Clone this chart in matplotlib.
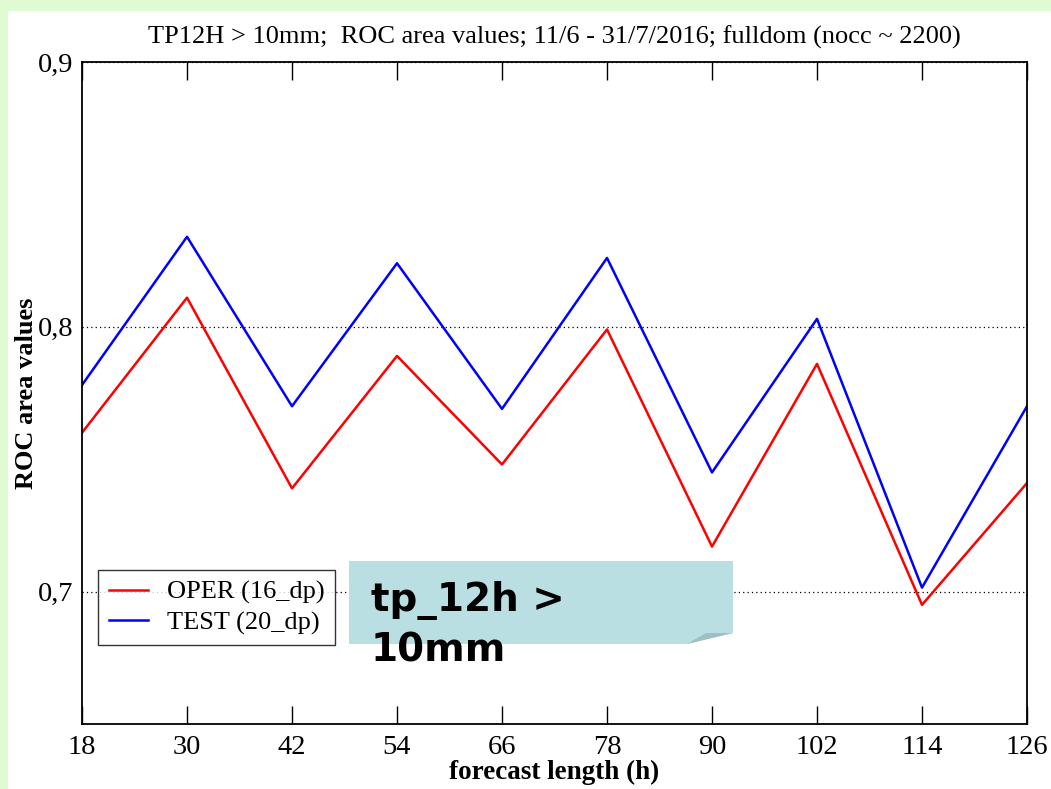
import matplotlib
matplotlib.use("Agg")
import matplotlib.pyplot as plt
from matplotlib.patches import Rectangle, Polygon
from matplotlib.ticker import FuncFormatter

# data
lead_hours = [18, 30, 42, 54, 66, 78, 90, 102, 114, 126]
oper_roc = [0.760, 0.811, 0.739, 0.789, 0.748, 0.799, 0.717, 0.786, 0.695, 0.741]
test_roc = [0.778, 0.834, 0.770, 0.824, 0.769, 0.826, 0.745, 0.803, 0.7015, 0.770]
y_ticks = [0.7, 0.8, 0.9]
series_labels = ["OPER (16_dp)", "TEST (20_dp)"]
title = "TP12H > 10mm;  ROC area values; 11/6 - 31/7/2016; fulldom (nocc ~ 2200)"
note_text = "tp_12h >\n10mm"

W, H = 1051, 789
serif = ["Liberation Serif", "DejaVu Serif"]


def fx(px):
    return px / W


def fy(py):
    return 1 - py / H


fig = plt.figure(figsize=(W / 100, H / 100), dpi=100)
fig.patch.set_facecolor("#e0fbd2")
# white slide area
fig.patches.append(Rectangle((fx(8), 0), 1 - fx(8), fy(11), transform=fig.transFigure,
                             facecolor="white", edgecolor="none", zorder=-10))

ax = fig.add_axes([fx(82), fy(724), fx(1027) - fx(82), fy(62) - fy(724)])
ax.set_zorder(1)
ax.plot(lead_hours, oper_roc, color="#ff0000", lw=1.8, label=series_labels[0])
ax.plot(lead_hours, test_roc, color="#0000ff", lw=1.8, label=series_labels[1])

ax.set_xlim(18, 126)
ax.set_ylim(0.65, 0.9)
ax.set_xticks(lead_hours)
ax.set_yticks(y_ticks)
ax.yaxis.set_major_formatter(FuncFormatter(lambda v, p: f"{v:.1f}".replace(".", ",")))

for lab in ax.get_xticklabels() + ax.get_yticklabels():
    lab.set_fontfamily(serif)
    lab.set_fontsize(20.5)
ax.tick_params(axis="x", direction="in", length=13, width=1, top=True, pad=8, colors="black")
ax.tick_params(axis="y", length=0, pad=6)
for s in ax.spines.values():
    s.set_linewidth(1.3)

ax.yaxis.grid(True, linestyle=(0, (1, 2.5)), color="black", lw=0.9)

ax.set_title(title, fontfamily=serif, fontsize=19, pad=13)
ax.set_xlabel("forecast length (h)", fontfamily=serif, fontweight="bold", fontsize=19.5, labelpad=0)
ax.set_ylabel("ROC area values", fontfamily=serif, fontweight="bold", fontsize=19)
ax.yaxis.set_label_coords(-0.047, 0.5)

leg = ax.legend(loc="lower left", bbox_to_anchor=(fx(98 - 82) / (fx(1027) - fx(82)), 0.119),
                prop={"family": serif, "size": 19}, frameon=True, fancybox=False,
                handlelength=1.5, handletextpad=0.7, borderpad=0.4, labelspacing=0.25,
                borderaxespad=0)
leg.get_frame().set_edgecolor("black")
leg.get_frame().set_linewidth(1.0)

# overlaid slide note with folded corner
box = [(349, 561), (733, 561), (733, 633), (687, 644), (349, 644)]
fig.patches.append(Polygon([(fx(x), fy(y)) for x, y in box], closed=True,
                           transform=fig.transFigure, facecolor="#b9dfe3",
                           edgecolor="none", zorder=5))
fold = [(687, 644), (706, 633), (733, 633)]
fig.patches.append(Polygon([(fx(x), fy(y)) for x, y in fold], closed=True,
                           transform=fig.transFigure, facecolor="#9fbfc1",
                           edgecolor="none", zorder=6))
fig.text(fx(371), fy(662), note_text, fontfamily="DejaVu Sans", fontweight="bold",
         fontsize=28, color="black", ha="left", va="baseline", linespacing=1.4, zorder=7)

fig.savefig("out.png", dpi=100)
